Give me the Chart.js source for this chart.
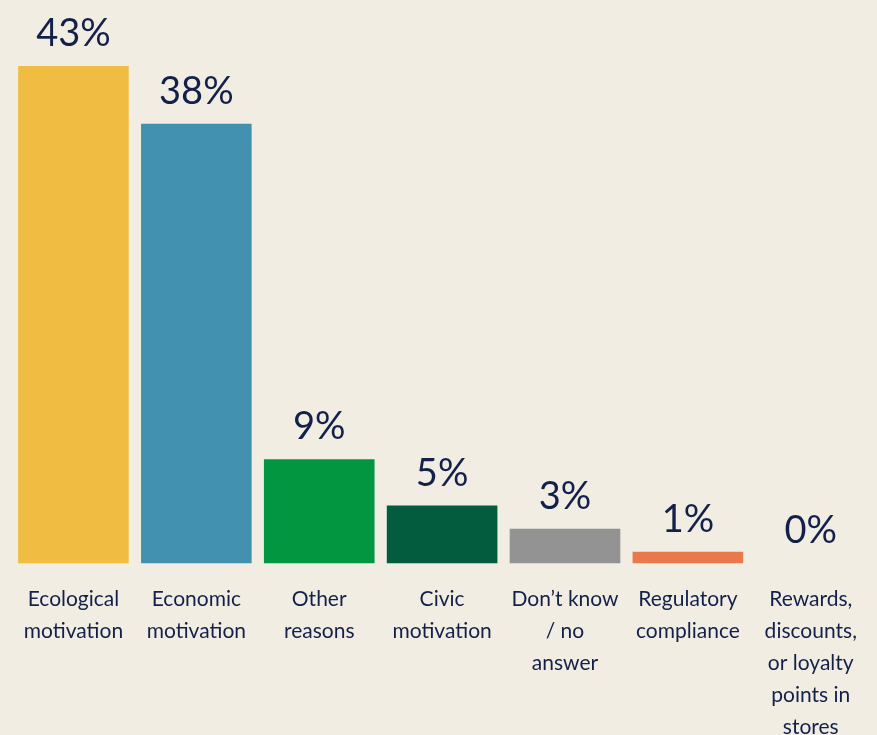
<!DOCTYPE html>
<html>
<head>
<meta charset="utf-8">
<script src="https://cdn.jsdelivr.net/npm/chart.js@4"></script>
<style>
  html, body { margin: 0; padding: 0; background: #f1ede3; overflow: hidden; }
  #wrap { width: 877px; height: 763px; }
</style>
</head>
<body>
<div id="wrap"><canvas id="chart"></canvas></div>
<script>
// reasons — share of respondents (%)
const CATEGORIES = [
  ['Ecological', 'motivation'],
  ['Economic', 'motivation'],
  ['Other', 'reasons'],
  ['Civic', 'motivation'],
  ['Don\u2019t know', '/ no', 'answer'],
  ['Regulatory', 'compliance'],
  ['Rewards,', 'discounts,', 'or loyalty', 'points in', 'stores'],
];
const VALUES = [43, 38, 9, 5, 3, 1, 0];
const BAR_COLORS = ['#f0bd42', '#4391b0', '#01963f', '#025c3d', '#939393', '#ea784d', '#c9c9c9'];
const TEXT_COLOR = '#13214a';
const FONT = 'Lato, "Open Sans", sans-serif';

// value labels above each bar
const valueLabels = {
  id: 'valueLabels',
  afterDatasetsDraw(chart) {
    const ctx = chart.ctx;
    const meta = chart.getDatasetMeta(0);
    ctx.save();
    ctx.fillStyle = TEXT_COLOR;
    ctx.font = '38px ' + FONT;
    ctx.textAlign = 'center';
    ctx.textBaseline = 'alphabetic';
    meta.data.forEach((bar, i) => {
      ctx.fillText(VALUES[i] + '%', bar.x, bar.y - 20);
    });
    ctx.restore();
  }
};

new Chart(document.getElementById('chart'), {
  type: 'bar',
  data: {
    labels: CATEGORIES,
    datasets: [{ data: VALUES, backgroundColor: BAR_COLORS, borderWidth: 0, barPercentage: 0.9, categoryPercentage: 1 }],
  },
  options: {
    responsive: true,
    maintainAspectRatio: false,
    animation: false,
    layout: { padding: { left: 12, right: 1, top: 0, bottom: 0 } },
    plugins: { legend: { display: false }, tooltip: { enabled: false } },
    scales: {
      x: {
        grid: { display: false, drawTicks: false },
        border: { display: false },
        ticks: { color: TEXT_COLOR, font: { family: FONT, size: 21, lineHeight: 1.52 }, padding: 20, maxRotation: 0, autoSkip: false },
      },
      y: { display: false, min: 0, max: 48.7 },
    },
  },
  plugins: [valueLabels],
});
</script>
</body>
</html>
